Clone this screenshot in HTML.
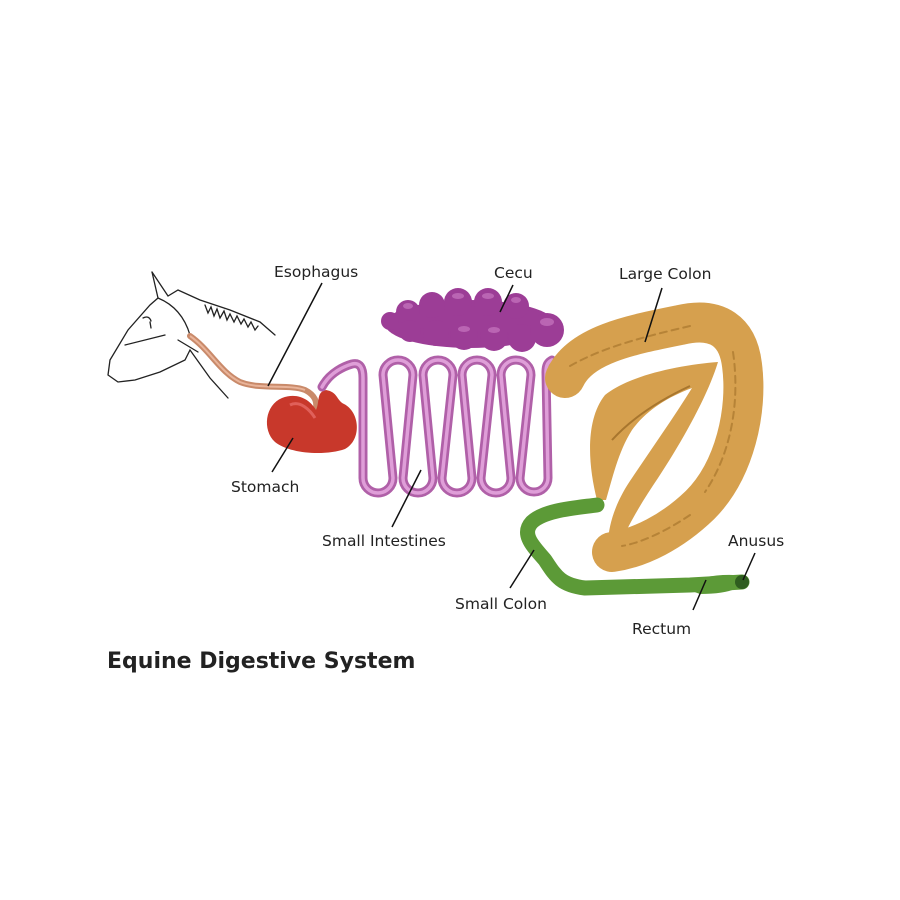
<!DOCTYPE html>
<html><head><meta charset="utf-8"><style>
body{margin:0;background:#fff;}
svg{display:block}
text{font-family:"DejaVu Sans","Liberation Sans",sans-serif;fill:#222;}
</style></head><body>
<svg width="900" height="900" viewBox="0 0 900 900" xmlns="http://www.w3.org/2000/svg">
<rect width="900" height="900" fill="#fff"/>
<!-- horse head -->
<g fill="none" stroke="#222" stroke-width="1.3" stroke-linecap="round">
<path d="M152,272 L158,298 L150,305 L128,330 L110,360 L108,375 L118,382 L135,380 L160,372 L185,360 L190,350 L210,378 L228,398"/>
<path d="M152,272 L168,296 L178,290 L200,300 L230,310 L260,322 L275,335"/>
<path d="M158,298 C175,305 185,318 190,335"/>
<path d="M178,340 L198,352"/>
<path d="M125,345 Q145,340 165,335"/>
<path d="M143,318 q6,-3 8,3 M150,322 l1,6"/>
<path d="M205,305 l3,8 l3,-6 l3,9 l3,-7 l3,9 l4,-7 l3,9 l3,-6 l4,8 l3,-6 l4,8 l3,-5 l4,8 l3,-5 l4,8 l3,-4"/>
</g>
<!-- esophagus -->
<path d="M190,336 C210,350 220,372 240,382 C260,390 290,384 305,390 C315,395 317,402 316,408" fill="none" stroke="#c98a6a" stroke-width="6" stroke-linecap="round"/>
<path d="M190,336 C210,350 220,372 240,382 C260,390 290,384 305,390" fill="none" stroke="#e9b49a" stroke-width="2"/>
<!-- stomach -->
<path d="M282,398 C298,392 310,400 316,410 C320,402 316,392 326,390 C338,392 336,400 344,404 C360,412 362,440 345,449 C325,456 290,454 275,442 C262,430 265,405 282,398Z" fill="#c8382b"/>
<path d="M290,405 C300,400 310,410 315,418" fill="none" stroke="#e0605a" stroke-width="3"/>
<!-- small intestines -->
<g fill="none" stroke-linecap="round" stroke-linejoin="round">
<path id="sip" d="M322,387 C330,372 345,366 352,364 C360,362 363,368 363,378 L363,478 A15,15 0 0 0 393,478 L383,375 A15,15 0 0 1 413,375 L403,478 A15,15 0 0 0 433,478 L423,375 A15,15 0 0 1 453,375 L442,478 A15,15 0 0 0 472,478 L462,375 A15,15 0 0 1 492,375 L481,478 A15,15 0 0 0 511,478 L501,375 A15,15 0 0 1 531,375 L520,478 A14,14 0 0 0 548,478 L546,372 C546,365 548,362 552,360" stroke="#b060a8" stroke-width="9"/>
<path d="M322,387 C330,372 345,366 352,364 C360,362 363,368 363,378 L363,478 A15,15 0 0 0 393,478 L383,375 A15,15 0 0 1 413,375 L403,478 A15,15 0 0 0 433,478 L423,375 A15,15 0 0 1 453,375 L442,478 A15,15 0 0 0 472,478 L462,375 A15,15 0 0 1 492,375 L481,478 A15,15 0 0 0 511,478 L501,375 A15,15 0 0 1 531,375 L520,478 A14,14 0 0 0 548,478 L546,372 C546,365 548,362 552,360" stroke="#df9ed8" stroke-width="3.5"/>
</g>
<!-- cecum -->
<g fill="#9c3d96">
<ellipse cx="470" cy="324" rx="85" ry="24"/>
<circle cx="390" cy="321" r="9"/><circle cx="408" cy="312" r="12"/><circle cx="410" cy="331" r="11"/>
<circle cx="432" cy="305" r="13"/><circle cx="436" cy="333" r="13"/><circle cx="458" cy="302" r="14"/>
<circle cx="464" cy="336" r="14"/><circle cx="488" cy="302" r="14"/><circle cx="494" cy="337" r="14"/>
<circle cx="516" cy="306" r="13"/><circle cx="522" cy="338" r="14"/><circle cx="547" cy="330" r="17"/>
</g>
<g fill="#c776c0" opacity=".7">
<ellipse cx="408" cy="306" rx="5" ry="3"/><ellipse cx="458" cy="296" rx="6" ry="3"/><ellipse cx="488" cy="296" rx="6" ry="3"/>
<ellipse cx="516" cy="300" rx="5" ry="3"/><ellipse cx="547" cy="322" rx="7" ry="4"/><ellipse cx="464" cy="329" rx="6" ry="3"/><ellipse cx="494" cy="330" rx="6" ry="3"/>
</g>
<!-- large colon -->
<path d="M597,500 C588,465 585,420 605,395 C630,375 680,365 718,362 C708,395 683,440 658,478 C643,500 628,525 620,545 L608,545 C608,520 620,495 632,478 C652,448 672,420 692,388 C665,398 645,412 632,430 C618,452 612,480 606,500Z" fill="#d6a04e"/>
<path d="M612,440 C632,418 660,400 690,386" stroke="#a8762e" stroke-width="2" fill="none"/>
<g fill="none" stroke-linecap="round" stroke-linejoin="round">
<path d="M565,378 C580,345 630,335 680,325 C718,316 738,332 742,365 C748,410 735,470 700,505 C672,532 640,548 612,552" stroke="#d6a04e" stroke-width="40"/>
<path d="M570,366 C605,346 648,336 690,326 M733,352 C740,400 732,452 705,492 M690,515 C665,532 640,543 622,546" stroke="#a8762e" stroke-width="2" stroke-dasharray="7 5" opacity=".7"/>
</g>
<!-- small colon -->
<path d="M597,505 C575,508 545,510 532,522 C520,535 535,548 545,560 C555,575 560,585 585,588 L690,585 C710,584 725,583 742,582" fill="none" stroke="#5c9a37" stroke-width="15" stroke-linecap="round" stroke-linejoin="round"/>
<path d="M678,586 C700,576 725,573 744,576 C748,586 732,594 700,594 Z" fill="#5c9a37"/>
<circle cx="742" cy="582" r="7" fill="#2f5e1f"/>
<!-- leader lines -->
<g stroke="#111" stroke-width="1.5">
<line x1="322" y1="283" x2="268" y2="386"/>
<line x1="513" y1="285" x2="500" y2="312"/>
<line x1="662" y1="288" x2="645" y2="342"/>
<line x1="293" y1="438" x2="272" y2="472"/>
<line x1="421" y1="470" x2="392" y2="527"/>
<line x1="534" y1="550" x2="510" y2="588"/>
<line x1="706" y1="580" x2="693" y2="610"/>
<line x1="755" y1="553" x2="743" y2="580"/>
</g>
<g font-size="15.5">
<text x="274" y="277">Esophagus</text>
<text x="494" y="278">Cecu</text>
<text x="619" y="279">Large Colon</text>
<text x="231" y="492">Stomach</text>
<text x="322" y="546">Small Intestines</text>
<text x="455" y="609">Small Colon</text>
<text x="632" y="634">Rectum</text>
<text x="728" y="546">Anusus</text>
</g>
<text x="107" y="668" font-size="22" font-weight="bold">Equine Digestive System</text>
</svg>
</body></html>
